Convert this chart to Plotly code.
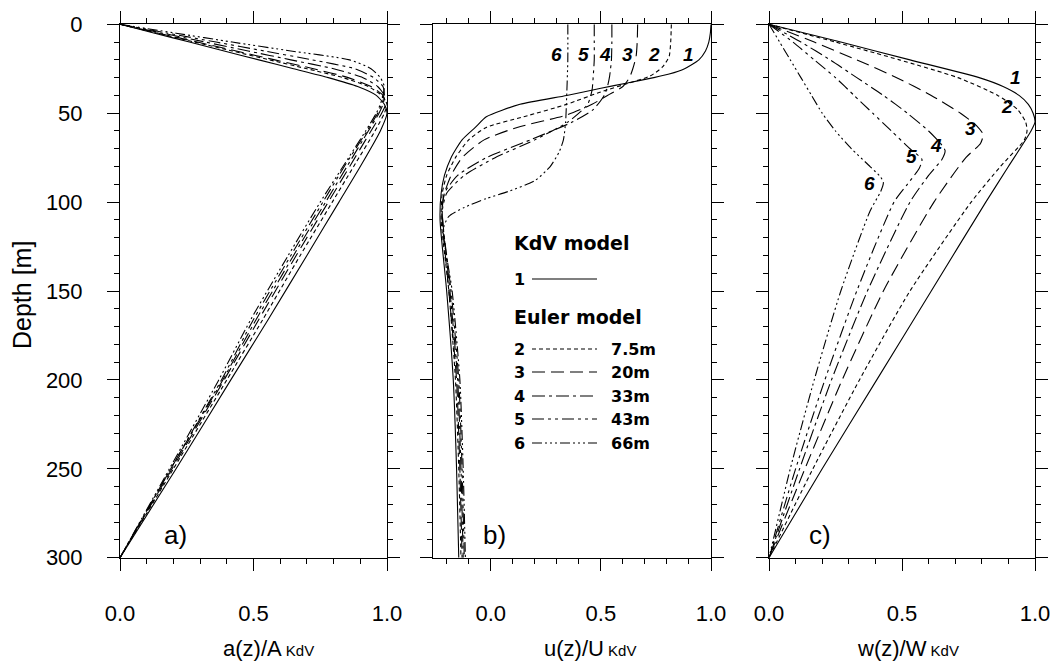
import plotly.graph_objects as go

W, H = 1053, 662

# ---------------- data ----------------
# panel a: a(z)/A_KdV
A_DEPTH = [0, 5, 10, 15, 20, 25, 30, 35, 40, 45, 50, 60, 80, 100, 130, 166, 200, 250, 300]
A1 = [0, 0.13, 0.26, 0.39, 0.52, 0.65, 0.78, 0.89, 0.96, 0.99, 1.0, 0.975, 0.90, 0.82, 0.70, 0.555, 0.415, 0.21, 0]
A2 = [0, 0.14, 0.28, 0.42, 0.56, 0.70, 0.835, 0.93, 0.98, 1.0, 0.99, 0.955, 0.875, 0.795, 0.675, 0.535, 0.40, 0.20, 0]
A3 = [0, 0.145, 0.29, 0.435, 0.58, 0.725, 0.855, 0.94, 0.985, 0.995, 0.98, 0.94, 0.86, 0.78, 0.66, 0.52, 0.39, 0.195, 0]
A4 = [0, 0.16, 0.32, 0.48, 0.64, 0.80, 0.91, 0.965, 0.99, 0.985, 0.97, 0.93, 0.85, 0.77, 0.65, 0.51, 0.385, 0.19, 0]
A5 = [0, 0.18, 0.36, 0.54, 0.72, 0.88, 0.95, 0.985, 0.99, 0.98, 0.965, 0.925, 0.84, 0.76, 0.64, 0.50, 0.38, 0.19, 0]
A6 = [0, 0.21, 0.42, 0.64, 0.86, 0.94, 0.975, 0.99, 0.985, 0.975, 0.96, 0.92, 0.835, 0.75, 0.63, 0.49, 0.37, 0.185, 0]

# panel b: u(z)/U_KdV
B1_D = [0, 5, 10, 15, 20, 25, 28, 30, 33, 36, 40, 45, 52, 58, 65, 75, 85, 95, 110, 150, 200, 250, 300]
B1_U = [1.0, 0.997, 0.99, 0.975, 0.945, 0.88, 0.81, 0.74, 0.62, 0.5, 0.345, 0.133, -0.02, -0.07, -0.13, -0.18, -0.21, -0.225, -0.23, -0.2, -0.17, -0.155, -0.145]
B2_D = [0, 10, 18, 24, 29, 33, 38, 45, 52, 58, 65, 75, 85, 95, 110, 150, 200, 250, 300]
B2_U = [0.82, 0.817, 0.81, 0.78, 0.725, 0.63, 0.5, 0.345, 0.15, -0.02, -0.1, -0.16, -0.2, -0.22, -0.225, -0.19, -0.16, -0.145, -0.135]
B3_D = [0, 10, 18, 25, 30, 35, 40, 45, 51, 58, 65, 75, 85, 95, 105, 150, 200, 250, 300]
B3_U = [0.667, 0.665, 0.66, 0.645, 0.63, 0.6, 0.53, 0.46, 0.345, 0.12, -0.03, -0.13, -0.18, -0.21, -0.222, -0.19, -0.155, -0.14, -0.13]
B4_D = [0, 10, 20, 29, 35, 40, 48, 55, 65, 75, 85, 95, 105, 150, 200, 250, 300]
B4_U = [0.55, 0.55, 0.548, 0.54, 0.53, 0.515, 0.465, 0.37, 0.18, -0.02, -0.15, -0.21, -0.22, -0.185, -0.15, -0.135, -0.125]
B5_D = [0, 10, 20, 30, 37, 45, 55, 65, 75, 85, 95, 105, 115, 150, 200, 250, 300]
B5_U = [0.47, 0.47, 0.47, 0.465, 0.46, 0.44, 0.35, 0.2, 0.02, -0.12, -0.2, -0.22, -0.215, -0.18, -0.145, -0.13, -0.12]
B6_D = [0, 20, 40, 55, 65, 72, 80, 88, 94, 98, 103, 108, 115, 150, 200, 250, 300]
B6_U = [0.35, 0.35, 0.345, 0.34, 0.33, 0.31, 0.27, 0.2, 0.08, -0.02, -0.12, -0.19, -0.215, -0.175, -0.14, -0.125, -0.115]

# panel c: w(z)/W_KdV
C1_D = [0, 10, 20, 30, 35, 40, 45, 50, 55, 60, 80, 100, 150, 200, 250, 300]
C1_W = [0, 0.27, 0.53, 0.79, 0.88, 0.94, 0.975, 0.993, 1.0, 0.985, 0.90, 0.815, 0.61, 0.405, 0.2, 0]
C2_D = [0, 10, 20, 30, 40, 48, 55, 60, 65, 80, 100, 150, 200, 250, 300]
C2_W = [0, 0.25, 0.49, 0.71, 0.86, 0.935, 0.965, 0.97, 0.96, 0.87, 0.76, 0.53, 0.34, 0.165, 0]
C3_D = [0, 10, 20, 30, 40, 50, 57, 62, 67, 75, 100, 150, 200, 250, 300]
C3_W = [0, 0.17, 0.33, 0.48, 0.61, 0.72, 0.78, 0.805, 0.795, 0.74, 0.62, 0.43, 0.275, 0.135, 0]
C4_D = [0, 10, 20, 30, 40, 50, 60, 67, 71, 76, 85, 100, 150, 200, 250, 300]
C4_W = [0, 0.12, 0.23, 0.33, 0.43, 0.52, 0.6, 0.645, 0.662, 0.65, 0.6, 0.53, 0.37, 0.235, 0.115, 0]
C5_D = [0, 10, 20, 30, 40, 50, 60, 70, 76, 81, 90, 100, 150, 200, 250, 300]
C5_W = [0, 0.09, 0.17, 0.25, 0.32, 0.39, 0.46, 0.53, 0.575, 0.565, 0.52, 0.47, 0.33, 0.21, 0.1, 0]
C6_D = [0, 10, 20, 30, 40, 50, 60, 70, 80, 86, 89, 94, 105, 150, 200, 250, 300]
C6_W = [0, 0.04, 0.08, 0.12, 0.16, 0.2, 0.25, 0.31, 0.38, 0.42, 0.43, 0.42, 0.38, 0.27, 0.17, 0.08, 0]

CURVE_IDS = ["1", "2", "3", "4", "5", "6"]
EULER_DEPTHS = ["7.5m", "20m", "33m", "43m", "66m"]
# label positions (data units)
B_LABEL_X = [0.90, 0.74, 0.62, 0.52, 0.42, 0.30]
B_LABEL_D = [17, 17, 17, 17, 17, 17]
C_LABEL_X = [0.925, 0.895, 0.759, 0.628, 0.536, 0.376]
C_LABEL_D = [30, 46, 58.5, 68.4, 74.6, 89.3]

# ---------------- styles ----------------
DASHES = ["solid", "4px,3px", "13px,6px", "13px,4px,3px,4px",
          "12px,4px,3px,4px,3px,4px", "10px,3px,2px,3px,2px,3px,2px,3px"]

fig = go.Figure()

def px2x(p):
    return p / W

def px2y(p):
    return 1 - p / H

panels = [
    ("x", "y", [A_DEPTH] * 6, [A1, A2, A3, A4, A5, A6]),
    ("x2", "y2", [B1_D, B2_D, B3_D, B4_D, B5_D, B6_D], [B1_U, B2_U, B3_U, B4_U, B5_U, B6_U]),
    ("x3", "y3", [C1_D, C2_D, C3_D, C4_D, C5_D, C6_D], [C1_W, C2_W, C3_W, C4_W, C5_W, C6_W]),
]
for xa, ya, ds, vs in panels:
    for i in range(6):
        fig.add_trace(go.Scatter(
            x=vs[i], y=ds[i], mode="lines", xaxis=xa, yaxis=ya,
            line=dict(color="black", width=1.1, dash=DASHES[i], shape="spline", smoothing=0.6),
            showlegend=False, hoverinfo="skip"))

ydom = [px2y(557.7), px2y(24.3)]
xdoms = [[px2x(120), px2x(387)], [px2x(433), px2x(711)], [px2x(769), px2x(1035)]]
xranges = [[0, 1.0], [-0.262, 1.0], [0, 1.0]]

tickfont = dict(family="Liberation Sans, Arial, sans-serif", size=22, color="black")
common = dict(showline=True, linecolor="black", linewidth=1, mirror="ticks", ticks="outside",
              tickcolor="black", tickwidth=1, showgrid=False, zeroline=False, automargin=False)

lay = dict(width=W, height=H, autosize=False,
           margin=dict(l=0, r=0, t=0, b=0, pad=0, autoexpand=False),
           plot_bgcolor="white", paper_bgcolor="white", showlegend=False)
for k in range(3):
    sfx = "" if k == 0 else str(k + 1)
    lay["xaxis" + sfx] = dict(
        common, domain=xdoms[k], range=xranges[k], anchor="y" + sfx,
        tickvals=[0, 0.5, 1.0], ticktext=["0.0", "0.5", "1.0"], ticklen=12,
        tickfont=tickfont, ticklabelstandoff=24,
        minor=dict(tickvals=[-0.2, -0.1, 0.1, 0.2, 0.3, 0.4, 0.6, 0.7, 0.8, 0.9],
                   ticks="outside", ticklen=5, tickcolor="black", tickwidth=1, showgrid=False))
    lay["yaxis" + sfx] = dict(
        common, domain=ydom, range=[300, 0], anchor="x" + sfx,
        tickvals=[0, 50, 100, 150, 200, 250, 300], ticklen=12,
        showticklabels=(k == 0), tickfont=tickfont, ticklabelstandoff=20,
        minor=dict(dtick=10, ticks="outside", ticklen=5, tickcolor="black", tickwidth=1, showgrid=False))
fig.update_layout(**lay)

ann = []
shapes = []

def note(text, x, y, font, xanchor="center", yanchor="middle", xref="paper", yref="paper", **kw):
    d = dict(text=text, x=x, y=y, xref=xref, yref=yref, xanchor=xanchor, yanchor=yanchor,
             showarrow=False, font=font, borderpad=0)
    d.update(kw)
    ann.append(d)

# y axis title
note("Depth [m]", px2x(22), px2y(295), dict(family="Liberation Sans, Arial", size=25, color="black"),
     textangle=-90)
# x axis titles
titles = [("a(z)/A", 222), ("u(z)/U", 543), ("w(z)/W", 856)]
for t, xl in titles:
    note(t + "<span style='font-size:15px'> KdV</span>", px2x(xl), px2y(648),
         dict(family="Liberation Sans, Arial", size=22, color="black"), xanchor="left")
# panel letters
for t, xp in [("a)", 175), ("b)", 494), ("c)", 820)]:
    note(t, px2x(xp), px2y(535), dict(family="Liberation Sans, Arial", size=26, color="black"))
# curve labels
labfont = dict(family="Liberation Sans, Arial", size=19, color="black", weight="bold", style="italic")
for i in range(6):
    note(CURVE_IDS[i], B_LABEL_X[i], B_LABEL_D[i], labfont, xref="x2", yref="y2")
    note(CURVE_IDS[i], C_LABEL_X[i], C_LABEL_D[i], labfont, xref="x3", yref="y3")
# legend
hfont = dict(family="DejaVu Sans, sans-serif", size=19, color="black", weight="bold")
rfont = dict(family="DejaVu Sans, sans-serif", size=16, color="black", weight="bold")
note("KdV model", px2x(513), px2y(243), hfont, xanchor="left")
note("Euler model", px2x(513), px2y(317), hfont, xanchor="left")
rows_y = [279, 349, 372, 396, 419, 443]
for i in range(6):
    note(CURVE_IDS[i], px2x(519), px2y(rows_y[i]), rfont)
    shapes.append(dict(type="line", xref="paper", yref="paper", x0=px2x(532), x1=px2x(597),
                       y0=px2y(rows_y[i]), y1=px2y(rows_y[i]),
                       line=dict(color="black", width=1.1, dash=DASHES[i])))
    if i > 0:
        note(EULER_DEPTHS[i - 1], px2x(610), px2y(rows_y[i]), rfont, xanchor="left")
fig.update_layout(annotations=ann, shapes=shapes)
fig.write_html("out.html", config={"displayModeBar": False},
               post_script="document.body.style.margin='0px';document.body.style.overflow='hidden';")
